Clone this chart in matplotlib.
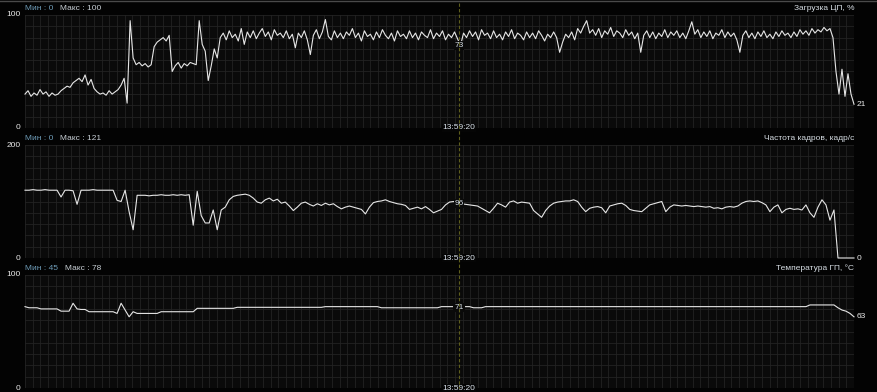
import numpy as np
import matplotlib.pyplot as plt
from matplotlib.lines import Line2D
from matplotlib import transforms

# мониторинг: загрузка ЦП, частота кадров, температура ГП
plt.rcParams['font.family'] = ['Liberation Sans', 'DejaVu Sans']
plt.rcParams['font.size'] = 6

titles = ['Загрузка ЦП, %', 'Частота кадров, кадр/с', 'Температура ГП, °C']
min_labels = ['Мин : 0', 'Мин : 0', 'Мин : 45']
max_labels = ['Макс : 100', 'Макс : 121', 'Макс : 78']
y_max = [100, 200, 100]
cursor_values = [73, 96, 71]
cursor_time = '13:59:20'
cursor_pos = 0.5235

cpu = [30, 33, 28, 31, 29, 34, 30, 32, 28, 31, 29, 30,
       33, 35, 37, 36, 40, 42, 44, 41, 47, 38, 43, 35,
       32, 30, 31, 29, 33, 30, 32, 34, 38,
       44, 22, 95, 62,
       56, 58, 55, 57, 54, 56,
       72, 76, 78, 80, 77, 82,
       50, 55, 58, 53, 57, 55, 58, 57, 56,
       95, 74, 68, 42, 55, 70, 62, 80,
       84, 78, 86, 80, 83, 77, 88, 74, 85, 80,
       86, 79, 84, 88, 81, 85, 78, 87, 82, 84,
       80, 86, 79, 83, 71, 84, 80, 86, 78, 65,
       82, 87, 79, 85, 96, 81, 78, 86, 80, 84,
       79, 85, 82, 88, 80, 84, 77, 86, 81, 83,
       78, 85, 80, 87, 82, 79, 84, 77, 86, 81,
       83, 79, 86, 80, 84, 78, 85, 82, 80, 87,
       79, 84, 81, 86, 78, 83, 80, 85, 79, 73,
       84, 80, 86, 81, 85, 78, 87, 82, 84, 79,
       86, 80, 83, 78, 85, 81, 87, 79, 84, 82,
       78, 85, 80, 84, 79, 86, 82, 77, 83, 80,
       85, 80, 67, 76, 83, 80, 85, 78, 88, 84,
       90, 95, 84, 87, 82, 88, 80, 86, 83, 89,
       81, 86, 84, 80, 87, 82, 85, 79, 84, 67,
       82, 86, 80, 85, 79, 84, 81, 87, 80, 85,
       82, 86, 80, 84, 79, 86, 94, 83, 87, 80,
       85, 81, 86, 79, 84, 82, 87, 80, 85, 81,
       84, 78, 67, 82, 86, 80, 84, 79, 85, 81,
       86, 80, 83, 79, 85, 81, 86, 82, 84, 80,
       85, 81, 87, 83, 86, 82, 88, 84, 87, 85,
       89, 86, 88,
       80, 50, 30, 52, 28, 48, 30, 21]

fps = [120, 120, 121, 120, 120, 121, 120, 120, 120, 108,
       120, 120, 119, 95, 120, 120, 120, 121, 120, 120,
       120, 120, 120, 102, 100, 120, 82, 50, 111, 111,
       111, 110, 111, 111, 112, 111, 111, 112, 111, 112,
       111, 112, 58, 118, 75, 62, 62, 85, 50, 85,
       90, 103, 109, 111, 112, 113, 111, 106, 99, 97,
       103, 106, 101, 104, 97, 99, 92, 84, 90, 97,
       99, 95, 92, 96, 93, 97, 94, 96, 91, 87,
       90, 92, 90, 88, 86, 78, 90, 98, 100, 101,
       103, 100, 98, 96, 95, 93, 86, 88, 90, 87,
       91, 86, 80, 83, 86, 94, 99, 100, 97, 96,
       95, 94, 93, 92, 88, 84, 80, 88, 97, 94,
       90, 99, 101, 97, 99, 98, 97, 84, 78, 72,
       84, 92, 97, 99, 100, 101, 101, 103, 100, 90,
       82, 88, 90, 91, 89, 80, 92, 94, 96, 97,
       93, 86, 84, 83, 82, 88, 94, 96, 98, 100,
       82, 90, 94, 93, 92, 93, 92, 91, 92, 91,
       90, 91, 88, 89, 87, 90, 91, 90, 92, 97,
       100, 101, 100, 101, 98, 94, 82, 90, 94, 80,
       86, 88, 86, 87, 85, 94, 80, 72, 90, 103,
       94, 67, 85, 0, 0, 0, 0, 0]

temp = [72, 71, 71, 71, 70, 70, 70, 70, 70, 68,
        68, 68, 75, 70, 69.5, 69.5, 67.5, 67.5, 67.5, 67.5,
        67.5, 67.5, 67.5, 66, 75, 69, 63, 67.5, 66, 66,
        66, 66, 66, 66, 67.5, 67.5, 67.5, 67.5, 67.5, 67.5,
        67.5, 67.5, 67.5, 70.5, 70.5, 70.5, 70.5, 70.5, 70.5, 70.5,
        70.5, 70.5, 70.5, 71.4, 71.4, 71.4, 71.4, 71.4, 71.4, 71.4,
        71.4, 71.4, 71.4, 71.4, 71.4, 71.4, 71.4, 71.4, 71.4, 71.4,
        71.4, 71.4, 71.4, 71.4, 71.4, 72, 72, 72, 72, 72,
        72, 72, 72, 72, 72, 72, 72, 72, 72, 71,
        71, 71, 71, 71, 71, 71, 71, 71, 71, 71,
        71, 71, 71, 71, 72, 72, 72, 72, 72, 72,
        72, 72, 71, 71, 71, 72, 72, 72, 72, 72,
        72, 72, 72, 72, 72, 72, 72, 72, 72, 72,
        72, 72, 72, 72, 72, 72, 72, 72, 72, 72,
        72, 72, 72, 72, 72, 72, 72, 72, 72, 72,
        72, 72, 72, 72, 72, 72, 72, 72, 72, 72,
        72, 72, 72, 72, 72, 72, 72, 72, 72, 72,
        72, 72, 72, 72, 72, 72, 72, 72, 72, 72,
        72, 72, 72, 72, 72, 72, 72, 72, 72, 72,
        72, 72, 72, 72, 72, 72, 73.5, 73.5, 73.5, 73.5,
        73.5, 73.5, 73.5, 71, 69, 68, 66, 63]

series = [cpu, fps, temp]

W, H = 877, 392
fig = plt.figure(figsize=(W / 100, H / 100), dpi=100, facecolor='#030303')

left, right = 25 / W, 854 / W
tops = [15, 145, 275]
ph = 113

axes = []
for k in range(3):
    ax = fig.add_axes([left, 1 - (tops[k] + ph) / H, right - left, ph / H])
    ax.set_facecolor('#0a0a0a')
    vals = np.array(series[k], dtype=float)
    x = np.linspace(0, 1, len(vals))
    ax.set_xlim(0, 1)
    ax.set_ylim(0, y_max[k])
    ax.set_xticks(np.linspace(0, 1, 109))
    ax.set_yticks(np.linspace(0, y_max[k], 11))
    ax.grid(True, color='#232323', lw=0.6)
    ax.set_axisbelow(True)
    ax.tick_params(length=0, labelbottom=False, labelleft=False)
    for s in ax.spines.values():
        s.set_visible(False)

    ax.plot(x, vals, color='#e6e6e6', lw=0.8, clip_on=False, zorder=3)

    # шапка
    t1 = ax.annotate(min_labels[k], xy=(0, 1), xycoords='axes fraction',
                     xytext=(0, 2), textcoords='offset points',
                     ha='left', va='bottom', color='#6e9cb8')
    ax.annotate(max_labels[k], xy=(1, 0), xycoords=t1,
                xytext=(5, 0), textcoords='offset points',
                ha='left', va='bottom', color='#c9d0d6')
    ax.annotate(titles[k], xy=(1, 1), xycoords='axes fraction',
                xytext=(0, 2), textcoords='offset points',
                ha='right', va='bottom', color='#d6dde3')

    # шкала
    ax.annotate(str(y_max[k]), xy=(0, 1), xycoords='axes fraction',
                xytext=(-3, 0), textcoords='offset points',
                ha='right', va='center', color='#e8e8e8')
    ax.annotate('0', xy=(0, 0), xycoords='axes fraction',
                xytext=(-3, 0), textcoords='offset points',
                ha='right', va='center', color='#e8e8e8')

    # последнее значение
    ax.annotate(f'{vals[-1]:.0f}', xy=(1, vals[-1]),
                xycoords=('axes fraction', 'data'),
                xytext=(2, 0), textcoords='offset points',
                ha='left', va='center', color='#e8e8e8',
                annotation_clip=False)

    # курсор
    ax.text(cursor_pos, cursor_values[k], str(cursor_values[k]),
            ha='center', va='center', color='#d4dce4', zorder=5,
            bbox=dict(boxstyle='square,pad=0.1', fc='#0a0a0a', ec='none'))
    ax.text(cursor_pos, 0, cursor_time, ha='center', va='center',
            color='#dbe3ec', zorder=5, clip_on=False,
            bbox=dict(boxstyle='square,pad=0.1', fc='#050505', ec='none'))
    axes.append(ax)

trans = transforms.blended_transform_factory(axes[0].transData, fig.transFigure)
fig.add_artist(Line2D([cursor_pos, cursor_pos], [1 - 3 / H, 1 - 388 / H],
                      transform=trans, color='#5e5e1c', lw=0.8,
                      ls=(0, (3, 2)), zorder=2))
fig.add_artist(Line2D([0, 1], [1 - 0.5 / H, 1 - 0.5 / H],
                      transform=fig.transFigure, color='#4a4a4a', lw=1))

fig.savefig('out.png', dpi=100, facecolor=fig.get_facecolor())
